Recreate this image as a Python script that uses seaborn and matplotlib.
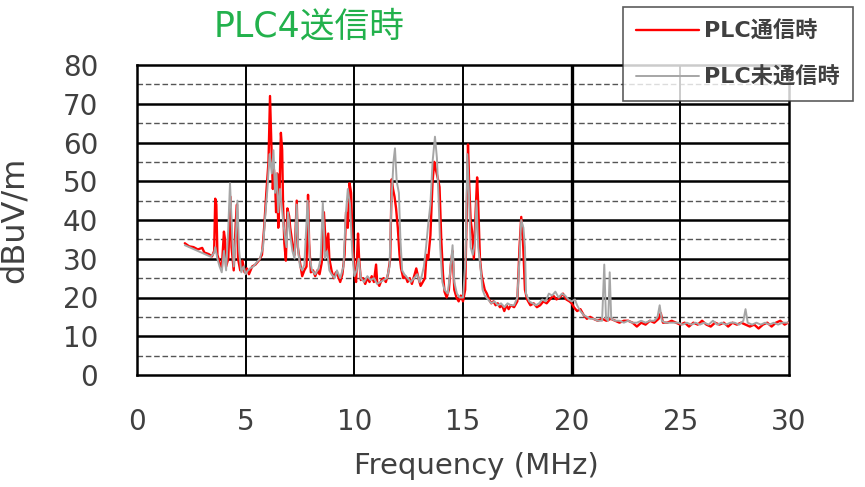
import numpy as np
import pandas as pd
import matplotlib
matplotlib.use("Agg")
import matplotlib.pyplot as plt
from matplotlib.ticker import MultipleLocator
import seaborn as sns

# PLC communicating (red) - frequency in MHz, level in dBuV/m
on_freq = [2.2, 2.4, 2.6, 2.8, 3.0, 3.1, 3.3, 3.45, 3.55, 3.6, 3.65, 3.7, 3.8, 3.9, 4.0, 4.05, 4.1, 4.2,
           4.3, 4.35, 4.45, 4.55, 4.6, 4.65, 4.75, 4.85, 4.95, 5.05, 5.15, 5.3, 5.45, 5.6, 5.75, 5.85,
           5.95, 6.05, 6.12, 6.18, 6.25, 6.3, 6.35, 6.4, 6.45, 6.5, 6.55, 6.62, 6.68, 6.72, 6.78, 6.85,
           6.92, 7.0, 7.05, 7.15, 7.25, 7.35, 7.4, 7.5, 7.6, 7.7, 7.8, 7.87, 7.92, 8.0, 8.1, 8.2, 8.3,
           8.4, 8.5, 8.6, 8.7, 8.8, 8.85, 8.95, 9.05, 9.15, 9.25, 9.35, 9.45, 9.55, 9.62, 9.7, 9.78,
           9.85, 9.92, 10.0, 10.08, 10.17, 10.22, 10.3, 10.4, 10.5, 10.6, 10.7, 10.8, 10.9, 11.0, 11.05,
           11.15, 11.25, 11.35, 11.45, 11.55, 11.65, 11.72, 11.78, 11.85, 11.92, 12.0, 12.08, 12.15,
           12.25, 12.35, 12.45, 12.55, 12.65, 12.75, 12.85, 12.95, 13.05, 13.15, 13.25, 13.32, 13.4,
           13.5, 13.6, 13.68, 13.75, 13.85, 13.92, 14.0, 14.08, 14.15, 14.25, 14.35, 14.45, 14.52,
           14.6, 14.7, 14.8, 14.9, 15.0, 15.1, 15.18, 15.23, 15.28, 15.35, 15.42, 15.5, 15.58, 15.65,
           15.7, 15.78, 15.85, 15.92, 16.0, 16.1, 16.2, 16.3, 16.4, 16.5, 16.6, 16.7, 16.8, 16.9, 17.0,
           17.1, 17.2, 17.35, 17.5, 17.6, 17.68, 17.75, 17.85, 17.95, 18.1, 18.25, 18.4, 18.55, 18.7,
           18.85, 19.0, 19.15, 19.3, 19.45, 19.6, 19.75, 19.9, 20.0, 20.1, 20.25, 20.4, 20.55, 20.7,
           20.85, 21.0, 21.2, 21.4, 21.6, 21.8, 22.0, 22.2, 22.4, 22.6, 22.8, 23.0, 23.2, 23.4, 23.6,
           23.8, 24.0, 24.1, 24.2, 24.4, 24.6, 24.8, 25.0, 25.2, 25.4, 25.6, 25.8, 26.0, 26.2, 26.4,
           26.6, 26.8, 27.0, 27.2, 27.4, 27.6, 27.8, 28.0, 28.2, 28.4, 28.6, 28.8, 29.0, 29.2, 29.4,
           29.6, 29.8, 29.95]
on_level = [34.0, 33.2, 33.0, 32.4, 32.8, 31.6, 31.2, 30.6, 32.0, 45.5, 44.0, 31.0, 29.0, 27.5, 37.0, 35.0, 28.0, 30.0,
            46.0, 33.0, 27.0, 40.0, 44.0, 30.0, 27.0, 29.5, 26.5, 27.5, 26.0, 28.0, 28.5, 29.5, 31.0, 38.0,
            47.0, 55.0, 72.0, 60.0, 48.0, 53.0, 50.0, 42.0, 52.0, 38.0, 45.0, 62.5, 58.0, 44.0, 34.0, 29.5,
            43.0, 41.0, 38.0, 34.0, 31.0, 45.0, 33.0, 29.0, 25.5, 27.0, 28.0, 46.5, 34.0, 26.5, 27.0, 25.5, 27.0,
            26.0, 29.0, 42.0, 32.0, 36.5, 30.0, 27.0, 25.0, 26.5, 25.5, 24.0, 26.0, 31.0, 42.0, 38.0, 49.5,
            47.0, 35.0, 27.0, 24.0, 36.5, 30.0, 24.5, 25.0, 23.5, 25.0, 24.0, 25.5, 24.0, 28.5, 24.0,
            23.0, 24.5, 25.0, 24.0, 26.0, 30.0, 50.5, 48.0, 46.0, 43.0, 38.0, 31.0, 27.5,
            25.0, 25.5, 24.0, 25.0, 23.5, 25.5, 27.5, 25.0, 23.0, 24.0, 25.0, 31.0, 30.0,
            36.0, 50.0, 55.0, 53.0, 50.5, 48.5, 35.0, 26.0, 21.5, 20.0, 22.0, 29.0, 32.0,
            22.0, 20.0, 19.0, 20.5, 19.0, 22.0, 45.0, 59.5, 50.0, 40.0, 37.0, 30.0, 42.0, 51.0,
            44.0, 30.0, 26.0, 24.0, 22.0, 21.0, 19.5, 18.5, 19.0, 18.0, 18.5, 17.5, 18.0, 16.5, 18.0,
            17.0, 18.0, 17.5, 19.0, 33.0, 40.8, 36.0, 22.0, 19.5, 18.0, 18.5, 17.5, 18.0, 19.0,
            18.5, 19.5, 20.5, 19.5, 20.0, 21.0, 19.5, 19.0, 18.5, 17.5, 16.5, 17.0, 15.5, 14.5,
            15.0, 14.5, 14.0, 14.5, 14.0, 14.5, 14.0, 13.5, 14.0, 14.0, 13.5, 12.5, 13.5, 13.0, 14.0,
            13.5, 14.5, 16.0, 13.5, 13.5, 14.0, 13.5, 13.0, 13.5, 12.5, 13.5, 13.0, 14.0, 13.0, 12.5,
            13.5, 13.0, 13.5, 12.5, 13.5, 13.0, 13.5, 13.0, 12.5, 13.0, 12.0, 13.0, 13.5, 12.5, 13.5,
            14.0, 13.0, 13.5]

# PLC not communicating (gray)
off_freq = [2.2, 2.4, 2.6, 2.8, 3.0, 3.2, 3.4, 3.55, 3.6, 3.7, 3.8, 3.9, 4.0, 4.1, 4.2, 4.28, 4.35, 4.45,
            4.55, 4.62, 4.7, 4.8, 4.9, 5.0, 5.1, 5.2, 5.35, 5.5, 5.65, 5.8, 5.9, 6.0, 6.1, 6.2, 6.28,
            6.35, 6.42, 6.5, 6.58, 6.65, 6.72, 6.8, 6.88, 6.95, 7.05, 7.15, 7.25, 7.35, 7.42, 7.5, 7.6,
            7.7, 7.85, 7.95, 8.05, 8.2, 8.35, 8.45, 8.55, 8.65, 8.75, 8.85, 8.95, 9.1, 9.2, 9.35, 9.5,
            9.6, 9.7, 9.8, 9.9, 10.0, 10.1, 10.2, 10.3, 10.45, 10.6, 10.75, 10.9, 11.05, 11.2, 11.35,
            11.5, 11.62, 11.7, 11.8, 11.87, 11.95, 12.05, 12.12, 12.2, 12.3, 12.45, 12.6, 12.75, 12.9,
            13.0, 13.1, 13.2, 13.3, 13.4, 13.5, 13.6, 13.71, 13.8, 13.88, 13.95, 14.05, 14.15, 14.3,
            14.4, 14.52, 14.6, 14.72, 14.85, 15.0, 15.12, 15.2, 15.28, 15.35, 15.45, 15.55, 15.62, 15.7,
            15.8, 15.9, 16.0, 16.15, 16.3, 16.45, 16.6, 16.75, 16.9, 17.05, 17.2, 17.35, 17.5, 17.6,
            17.68, 17.78, 17.85, 17.9, 18.05, 18.2, 18.35, 18.5, 18.65, 18.8, 18.95, 19.1, 19.25, 19.4,
            19.55, 19.7, 19.85, 20.0, 20.15, 20.25, 20.4, 20.55, 20.7, 20.85, 21.0, 21.2, 21.4, 21.5,
            21.58, 21.68, 21.75, 21.82, 22.0, 22.2, 22.4, 22.6, 22.8, 23.0, 23.2, 23.4, 23.6, 23.8,
            23.95, 24.05, 24.15, 24.3, 24.5, 24.7, 24.9, 25.1, 25.3, 25.5, 25.7, 25.9, 26.1, 26.3,
            26.5, 26.7, 26.9, 27.1, 27.3, 27.5, 27.7, 27.9, 28.0, 28.1, 28.3, 28.5, 28.7, 28.9, 29.1,
            29.3, 29.5, 29.7, 29.95]
off_level = [33.5, 33.0, 32.5, 32.0, 31.5, 31.0, 30.5, 31.5, 33.0, 30.0, 28.0, 26.5, 32.0, 27.0, 38.0, 49.5, 40.0, 28.0,
             36.0, 45.0, 32.0, 26.5, 28.0, 26.0, 27.0, 27.5, 28.0, 29.0, 30.0, 33.0, 41.0, 48.0, 57.0, 52.0, 58.0,
             47.0, 52.0, 42.0, 48.0, 44.0, 40.0, 36.0, 33.0, 42.0, 36.0, 32.0, 30.0, 44.0, 32.0, 28.0, 27.0,
             28.5, 45.0, 30.0, 27.0, 26.0, 27.5, 30.0, 44.5, 30.0, 32.0, 27.0, 26.0, 25.0, 27.0, 25.0, 28.0,
             41.0, 48.0, 44.0, 32.0, 25.5, 27.0, 30.0, 25.0, 24.0, 25.5, 24.5, 25.0, 23.5, 24.0, 24.5,
             25.0, 28.0, 44.0, 55.0, 58.5, 50.0, 47.0, 35.0, 27.0, 26.0, 25.0, 24.0, 25.0, 26.0,
             24.0, 25.5, 28.0, 33.0, 39.0, 44.0, 55.0, 61.5, 56.0, 45.0, 33.0, 24.0, 22.0, 21.0,
             26.0, 33.5, 24.0, 21.0, 20.0, 20.0, 30.0, 57.0, 46.0, 33.0, 31.0, 34.0, 45.0, 33.0,
             28.0, 22.0, 20.5, 19.5, 18.5, 19.0, 18.0, 18.5, 17.5, 18.5, 18.0, 18.0, 20.0, 30.0,
             40.0, 38.0, 33.0, 21.0, 19.0, 18.5, 18.0, 18.5, 19.5, 19.0, 21.0, 20.5, 21.5, 20.0,
             21.0, 20.5, 19.5, 19.0, 19.5, 18.0, 16.5, 15.5, 15.0, 14.5, 14.5, 14.0, 14.0, 28.5,
             14.5, 14.0, 26.5, 14.5, 14.0, 14.0, 13.5, 14.0, 13.5, 13.5, 14.0, 13.5, 14.0, 14.0,
             15.0, 18.0, 14.0, 13.5, 13.5, 13.5, 13.5, 13.0, 13.5, 13.0, 13.5, 13.0, 13.5, 13.0,
             14.0, 13.0, 13.5, 13.0, 13.5, 13.5, 13.0, 14.0, 17.0, 13.5, 13.0, 13.5, 13.0, 13.5, 13.0,
             13.5, 13.0, 13.5, 13.5]

x_ticks = [0, 5, 10, 15, 20, 25, 30]
y_ticks = [0, 10, 20, 30, 40, 50, 60, 70, 80]

sns.set_style("white")
plt.rcParams['font.family'] = ['DejaVu Sans', 'Noto Sans CJK JP']

fig = plt.figure(figsize=(8.65, 4.87), dpi=100)
ax = fig.add_axes([137 / 865, 1 - 375 / 487, 652 / 865, 310 / 487])

on_df = pd.DataFrame({'freq': on_freq, 'level': on_level})
off_df = pd.DataFrame({'freq': off_freq, 'level': off_level})

sns.lineplot(data=on_df, x='freq', y='level', ax=ax, color='#ff0000', lw=1.7,
             estimator=None, label='PLC通信時', zorder=3)
sns.lineplot(data=off_df, x='freq', y='level', ax=ax, color='#a6a6a6', lw=1.4,
             estimator=None, label='PLC未通信時', zorder=4)

ax.set_xlim(0, 30)
ax.set_ylim(0, 80)
ax.set_xticks(x_ticks)
ax.set_yticks(y_ticks)
ax.yaxis.set_minor_locator(MultipleLocator(5))

# grid: solid every 10 dB, dashed in between, verticals every 5 MHz
ax.grid(False)
for v in y_ticks[1:-1]:
    ax.axhline(v, color='black', lw=1.8, zorder=1)
for v in range(5, 80, 10):
    ax.axhline(v, color='#555555', lw=1.0, ls=(0, (4, 2)), zorder=1)
for f in x_ticks[1:-1]:
    ax.axvline(f, color='black', lw=2.4 if f == 20 else 1.4, zorder=1)

for s in ax.spines.values():
    s.set_color('black')
    s.set_linewidth(1.8)

ax.tick_params(axis='both', which='both', length=0, labelsize=20, colors='#404040')
ax.tick_params(axis='y', pad=28)
ax.tick_params(axis='x', pad=24)
ax.set_xlabel('Frequency (MHz)', fontsize=21, color='#404040')
ax.set_ylabel('dBuV/m', fontsize=23, color='#404040')
ax.xaxis.set_label_coords(0.521, -0.25)
ax.yaxis.set_label_coords(-0.164, 0.5)

fig.text(309 / 865, 1 - 27 / 487, 'PLC4送信時', color='#22b14c', fontsize=25,
         ha='center', va='center')

ax.get_legend().remove()
leg = fig.legend(loc='upper left', bbox_to_anchor=(623 / 865, 1 - 7 / 487), fontsize=16,
                 frameon=True, fancybox=False, handlelength=2.8, labelspacing=1.15,
                 borderpad=0.6, handletextpad=0.25, borderaxespad=0)
leg.get_frame().set_edgecolor('#333333')
leg.get_frame().set_linewidth(1.2)
for t in leg.get_texts():
    t.set_color('#404040')
    t.set_fontweight('bold')

fig.savefig('out.png', dpi=100)
